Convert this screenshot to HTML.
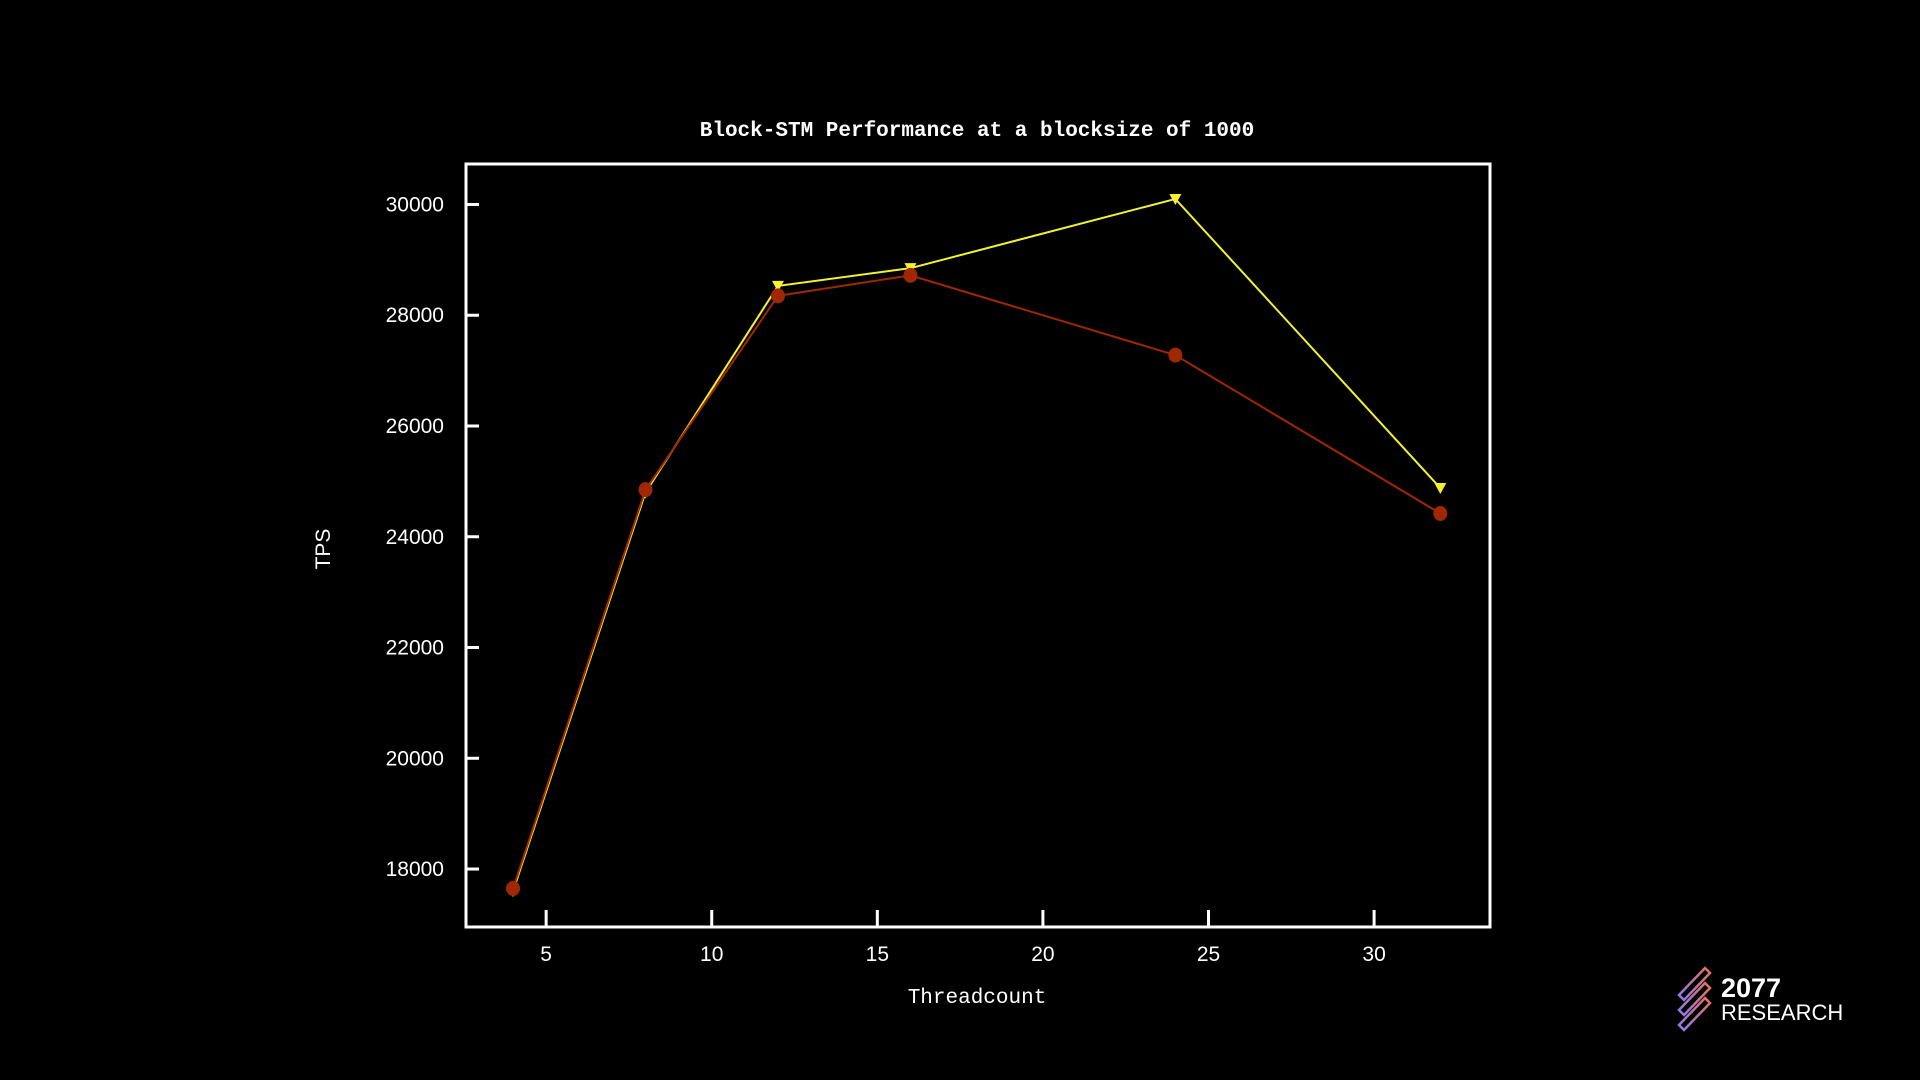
<!DOCTYPE html>
<html><head><meta charset="utf-8"><style>
html,body{margin:0;padding:0;background:#000;}
svg{display:block}
text{font-family:"Liberation Mono","DejaVu Sans Mono",monospace;fill:#fff}
text.sans{font-family:"Liberation Sans","DejaVu Sans",sans-serif}
</style></head><body>
<svg id="chart" width="1920" height="1080" xmlns="http://www.w3.org/2000/svg">
<rect width="1920" height="1080" fill="#000"/>
<text x="977" y="136" text-anchor="middle" font-size="21" font-weight="bold">Block-STM Performance at a blocksize of 1000</text>
<g id="axes"></g>
<g id="series"></g>
<rect x="466" y="164" width="1024" height="763" fill="none" stroke="#fff" stroke-width="3"/>
<text x="977" y="1003" text-anchor="middle" font-size="21">Threadcount</text>
<text class="sans" transform="translate(330,549) rotate(-90)" text-anchor="middle" font-size="21">TPS</text>
<g>
<defs><linearGradient id="lg" x1="0" y1="1" x2="1" y2="0"><stop offset="0" stop-color="#8a7cf0"/><stop offset="1" stop-color="#e8705a"/></linearGradient></defs>
<g fill="none" stroke="url(#lg)" stroke-width="2.5">
<path d="M1679 995 L1705 968 L1710 973 L1684 1000 Z"/>
<path d="M1679 1010 L1705 983 L1710 988 L1684 1015 Z"/>
<path d="M1679 1025 L1705 998 L1710 1003 L1684 1030 Z"/>
</g>
<text class="sans" x="1721" y="997" font-weight="bold" font-size="27">2077</text>
<text class="sans" x="1721" y="1020" font-size="22">RESEARCH</text>
</g>
</svg>
<script>
const threads=[4,8,12,16,24,32];
const redTPS=[17650,24850,28350,28720,27280,24420];
const yellowTPS=[17600,24800,28530,28850,30100,24880];
const xTicks=[5,10,15,20,25,30];
const yTicks=[18000,20000,22000,24000,26000,28000,30000];
const NS='http://www.w3.org/2000/svg';
const L=466,R=1490,T=164,B=927;
const xMin=2.58,xMax=33.5,yMin=16953,yMax=30731;
const xs=v=>L+(v-xMin)/(xMax-xMin)*(R-L);
const ys=v=>B-(v-yMin)/(yMax-yMin)*(B-T);
function mk(t,a,p){const e=document.createElementNS(NS,t);for(const k in a)e.setAttribute(k,a[k]);p.appendChild(e);return e;}
const ax=document.getElementById('axes');
xTicks.forEach(v=>{
 const l=mk('line',{x1:xs(v),x2:xs(v),y1:B,y2:B-17,stroke:'#fff','stroke-width':3},ax);
 
 
 const t=mk('text',{x:xs(v),y:961,'text-anchor':'middle','font-size':21,'class':'sans'},ax);
 t.textContent=v;
 
 
});
yTicks.forEach(v=>{
 const l=mk('line',{x1:L,x2:L+13,y1:ys(v),y2:ys(v),stroke:'#fff','stroke-width':3},ax);
 
 
 const t=mk('text',{x:444,y:ys(v)+7,'text-anchor':'end','font-size':21,'class':'sans'},ax);
 t.textContent=v;
 
 
});
const sg=document.getElementById('series');
function series(vals,color,name,marker){
 const pts=threads.map((x,i)=>xs(x)+','+ys(vals[i])).join(' ');
 const pl=mk('polyline',{points:pts,fill:'none',stroke:color,'stroke-width':2},sg);
 
 
 threads.forEach((x,i)=>{
  const cx=xs(x),cy=ys(vals[i]);let m;
  if(marker==='circle')m=mk('ellipse',{cx:cx,cy:cy,rx:7,ry:7.5,fill:color},sg);
  else m=mk('polygon',{points:`${cx-6},${cy-5} ${cx+6},${cy-5} ${cx},${cy+6}`,fill:color},sg);
  
  
 });
}
series(yellowTPS,'#f2f230','yellow-series','tri');
series(redTPS,'#a02800','red-series','circle');
</script>
</body></html>
